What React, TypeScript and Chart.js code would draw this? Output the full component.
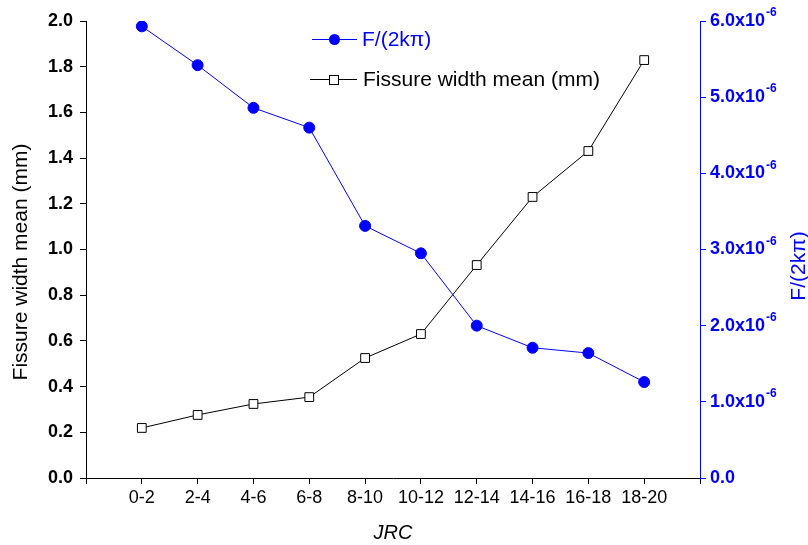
import React, { useEffect, useRef } from "react";
import { Chart, registerables } from "chart.js";

Chart.register(...registerables);

const categories = ["0-2", "2-4", "4-6", "6-8", "8-10", "10-12", "12-14", "14-16", "16-18", "18-20"];
const fissureWidth = [0.219, 0.276, 0.324, 0.354, 0.525, 0.63, 0.932, 1.23, 1.431, 1.829];
const fValues = [5.93e-6, 5.42e-6, 4.86e-6, 4.6e-6, 3.31e-6, 2.95e-6, 2.0e-6, 1.71e-6, 1.64e-6, 1.26e-6];
const leftTicks = [0, 0.2, 0.4, 0.6, 0.8, 1.0, 1.2, 1.4, 1.6, 1.8, 2.0];
const rightTicks = [0, 1, 2, 3, 4, 5, 6]; // x10^-6

const BLUE = "#0000ff";
const FONT = "'Liberation Sans', Arial, sans-serif";

const overlay = {
  id: "overlay",
  afterDraw(chart: any) {
    const ctx = chart.ctx;
    const ca = chart.chartArea;
    const yr = chart.scales.yR;
    ctx.save();
    // right axis labels with superscript
    ctx.fillStyle = BLUE;
    ctx.textBaseline = "middle";
    ctx.textAlign = "left";
    rightTicks.forEach((t) => {
      const y = yr.getPixelForValue(t * 1e-6);
      const x = ca.right + 10;
      ctx.font = `bold 18px ${FONT}`;
      if (t === 0) {
        ctx.fillText("0.0", x, y);
      } else {
        const base = t.toFixed(1) + "x10";
        ctx.fillText(base, x, y);
        const w = ctx.measureText(base).width;
        ctx.font = `bold 12px ${FONT}`;
        ctx.fillText("-6", x + w + 1, y - 8);
      }
    });
    // axis titles
    ctx.fillStyle = "#000";
    ctx.font = `21px ${FONT}`;
    ctx.textAlign = "center";
    ctx.save();
    ctx.translate(21, 262);
    ctx.rotate(-Math.PI / 2);
    ctx.fillText("Fissure width mean (mm)", 0, 0);
    ctx.restore();
    ctx.save();
    ctx.fillStyle = BLUE;
    ctx.translate(799, 266);
    ctx.rotate(-Math.PI / 2);
    ctx.fillText("F/(2kπ)", 0, 0);
    ctx.restore();
    ctx.font = `italic 20px ${FONT}`;
    ctx.fillText("JRC", (ca.left + ca.right) / 2, 533);
    // legend
    ctx.textAlign = "left";
    ctx.lineWidth = 1;
    ctx.strokeStyle = BLUE;
    ctx.beginPath();
    ctx.moveTo(312, 39.5);
    ctx.lineTo(357, 39.5);
    ctx.stroke();
    ctx.fillStyle = BLUE;
    ctx.beginPath();
    ctx.arc(334.5, 39.5, 5.5, 0, Math.PI * 2);
    ctx.fill();
    ctx.font = `21px ${FONT}`;
    ctx.fillText("F/(2kπ)", 362, 40);
    ctx.strokeStyle = "#000";
    ctx.beginPath();
    ctx.moveTo(310, 79.5);
    ctx.lineTo(357, 79.5);
    ctx.stroke();
    ctx.fillStyle = "#fff";
    ctx.fillRect(329, 75, 9, 9);
    ctx.strokeRect(329.5, 75.5, 9, 9);
    ctx.fillStyle = "#000";
    ctx.fillText("Fissure width mean (mm)", 363, 80);
    ctx.restore();
  },
};

export default function App() {
  const ref = useRef<HTMLCanvasElement>(null);
  useEffect(() => {
    if (!ref.current) return;
    const labels = ["", ...categories, ""];
    const chart = new Chart(ref.current, {
      type: "line",
      data: {
        labels,
        datasets: [
          {
            label: "F/(2kπ)",
            data: [null, ...fValues, null],
            yAxisID: "yR",
            borderColor: BLUE,
            backgroundColor: BLUE,
            borderWidth: 1,
            pointStyle: "circle",
            pointRadius: 5.5,
            pointBackgroundColor: BLUE,
            pointBorderColor: BLUE,
            tension: 0,
          },
          {
            label: "Fissure width mean (mm)",
            data: [null, ...fissureWidth, null],
            yAxisID: "yL",
            borderColor: "#000",
            backgroundColor: "#fff",
            borderWidth: 1,
            pointStyle: "rect",
            pointRadius: 6.2,
            pointBackgroundColor: "#fff",
            pointBorderColor: "#000",
            pointBorderWidth: 1,
            tension: 0,
          },
        ],
      },
      options: {
        animation: false,
        responsive: false,
        layout: { padding: { top: 21, left: 0, right: 0, bottom: 0 } },
        plugins: { legend: { display: false }, tooltip: { enabled: false } },
        scales: {
          x: {
            type: "category",
            offset: false,
            grid: { drawOnChartArea: false, drawTicks: true, tickLength: 6, color: "#000", offset: false },
            border: { color: "#000", width: 1 },
            ticks: {
              autoSkip: false,
              maxRotation: 0,
              color: "#000",
              font: { family: FONT, size: 18 },
              padding: 3,
            },
            afterFit: (s: any) => {
              s.height = 67;
            },
          },
          yL: {
            type: "linear",
            position: "left",
            min: 0,
            max: 2,
            afterBuildTicks: (s: any) => {
              s.ticks = leftTicks.map((v) => ({ value: v }));
            },
            grid: { drawOnChartArea: false, drawTicks: true, tickLength: 6, color: "#000" },
            border: { color: "#000", width: 1 },
            ticks: {
              color: "#000",
              font: { family: FONT, size: 18, weight: "bold" },
              padding: 7,
              callback: (v: any) => Number(v).toFixed(1),
            },
            afterFit: (s: any) => {
              s.width = 86;
            },
          },
          yR: {
            type: "linear",
            position: "right",
            min: 0,
            max: 6e-6,
            afterBuildTicks: (s: any) => {
              s.ticks = rightTicks.map((v) => ({ value: v * 1e-6 }));
            },
            grid: { drawOnChartArea: false, drawTicks: true, tickLength: 6, color: BLUE },
            border: { color: BLUE, width: 1 },
            ticks: { display: true, callback: () => "" },
            afterFit: (s: any) => {
              s.width = 108;
            },
          },
        },
      },
      plugins: [overlay],
    });
    return () => chart.destroy();
  }, []);
  return (
    <div style={{ position: "absolute", left: 0, top: 0, width: 808, height: 545, background: "#fff" }}>
      <canvas ref={ref} width={808} height={545} style={{ width: 808, height: 545 }} />
    </div>
  );
}
